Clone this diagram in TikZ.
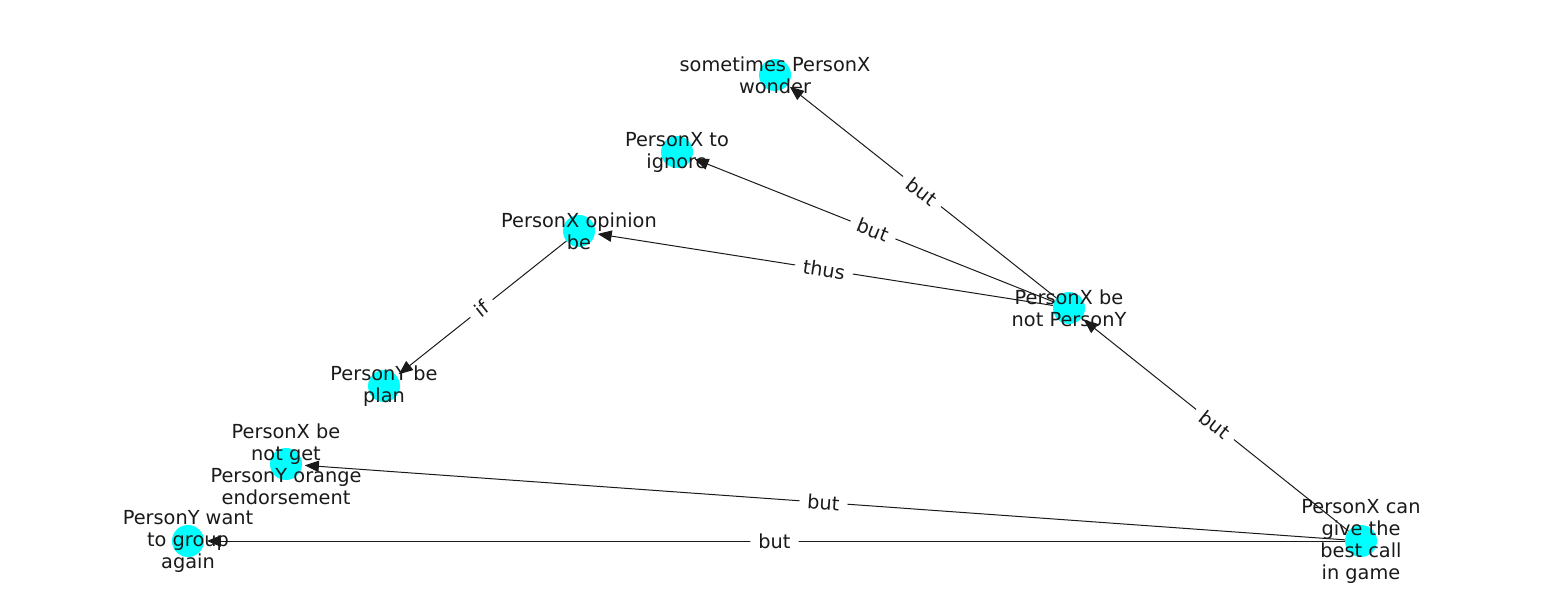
\documentclass[tikz,border=0pt]{standalone}
\usepackage{fontspec}
\setmainfont{DejaVu Sans}
\usetikzlibrary{arrows.meta}
\definecolor{nodecyan}{RGB}{0,255,255}
\definecolor{ink}{RGB}{26,26,26}
\begin{document}
\begin{tikzpicture}[x=0.75pt,y=-0.75pt,
  vertex/.style={circle,fill=nodecyan,minimum size=24pt,inner sep=0pt},
  lbl/.style={align=center,inner sep=0pt,text=ink,font=\fontsize{14.5pt}{16.5pt}\selectfont},
  edge/.style={draw=ink,line width=0.75pt,-{Triangle[length=10.5pt,width=8.5pt]},shorten >=2pt},
  elbl/.style={fill=white,sloped,midway,text=ink,inner xsep=6pt,inner ysep=2pt,rounded corners=3pt,font=\fontsize{14.5pt}{16.5pt}\selectfont}]
\fill[white] (0,0) rectangle (1550,616);
\useasboundingbox (0,0) rectangle (1550,616);
% vertices
\node[vertex] (A) at (775,75) {};
\node[vertex] (B) at (677,152) {};
\node[vertex] (C) at (579,231) {};
\node[vertex] (D) at (384,386) {};
\node[vertex] (E) at (286,464) {};
\node[vertex] (F) at (188,541) {};
\node[vertex] (G) at (1069,308) {};
\node[vertex] (H) at (1361,541) {};
% edges
\draw[edge] (G) -- node[elbl]{but} (A);
\draw[edge] (G) -- node[elbl]{but} (B);
\draw[edge] (G) -- node[elbl]{thus} (C);
\draw[edge] (C) -- node[elbl]{if} (D);
\draw[edge] (H) -- node[elbl]{but} (G);
\draw[edge] (H) -- node[elbl]{but} (E);
\draw[edge] (H) -- node[elbl]{but} (F);
% labels
\node[lbl] (tA) at (A) {sometimes PersonX\\wonder};
\node[lbl] (tB) at (B) {PersonX to\\ignore};
\node[lbl] (tC) at (C) {PersonX opinion\\be};
\node[lbl] (tD) at (D) {PersonY be\\plan};
\node[lbl] (tE) at (E) {PersonX be\\not get\\PersonY orange\\endorsement};
\node[lbl] (tF) at (F) {PersonY want\\to group\\again};
\node[lbl] (tG) at (G) {PersonX be\\not PersonY};
\node[lbl] (tH) at (H) {PersonX can\\give the\\best call\\in game};
\end{tikzpicture}
\end{document}
